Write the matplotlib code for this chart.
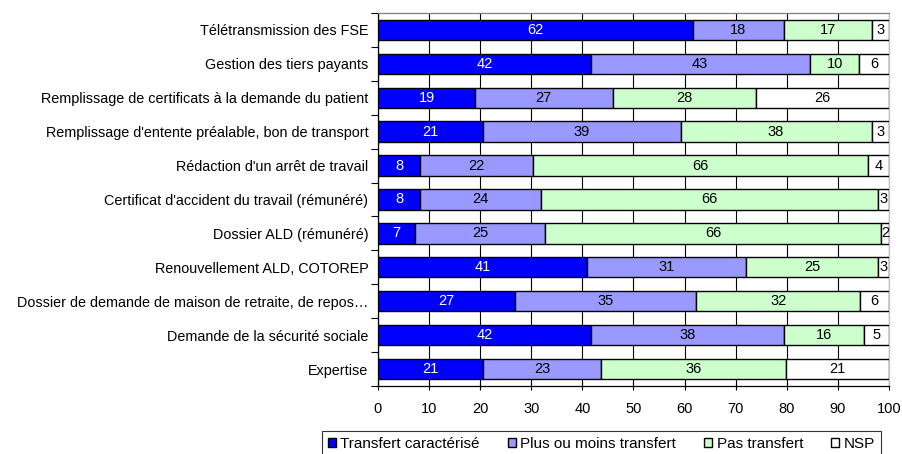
import matplotlib
matplotlib.use("Agg")
import matplotlib.pyplot as plt
import numpy as np
from matplotlib.patches import Patch

plt.rcParams['font.family'] = ['Liberation Sans', 'DejaVu Sans']

categories = [
    "Télétransmission des FSE",
    "Gestion des tiers payants",
    "Remplissage de certificats à la demande du patient",
    "Remplissage d'entente préalable, bon de transport",
    "Rédaction d'un arrêt de travail",
    "Certificat d'accident du travail (rémunéré)",
    "Dossier ALD (rémunéré)",
    "Renouvellement ALD, COTOREP",
    "Dossier de demande de maison de retraite, de repos…",
    "Demande de la sécurité sociale",
    "Expertise",
]
series_names = ["Transfert caractérisé", "Plus ou moins transfert", "Pas transfert", "NSP"]

# bar widths (percent)
transfert = [61.6, 41.6, 19.0, 20.6, 8.2, 8.2, 7.3, 40.9, 26.9, 41.7, 20.6]
plus_moins = [17.8, 42.9, 26.9, 38.6, 22.2, 23.7, 25.4, 31.2, 35.4, 37.8, 23.0]
pas_transfert = [17.2, 9.7, 28.0, 37.4, 65.5, 65.9, 65.8, 25.7, 32.1, 15.6, 36.3]
nsp = [3.4, 5.8, 26.1, 3.4, 4.1, 2.2, 1.5, 2.2, 5.6, 4.9, 20.1]

# printed labels
lab_transfert = [62, 42, 19, 21, 8, 8, 7, 41, 27, 42, 21]
lab_plus_moins = [18, 43, 27, 39, 22, 24, 25, 31, 35, 38, 23]
lab_pas_transfert = [17, 10, 28, 38, 66, 66, 66, 25, 32, 16, 36]
lab_nsp = [3, 6, 26, 3, 4, 3, 2, 3, 6, 5, 21]

colors = ["#0000FF", "#9999FF", "#CCFFCC", "#FFFFFF"]
text_colors = ["white", "black", "black", "black"]

fig = plt.figure(figsize=(9.03, 4.54), dpi=100)
ax = fig.add_axes([0.4186, 0.1498, 0.9845 - 0.4186, 0.9714 - 0.1498])

y = np.arange(len(categories))
data = [transfert, plus_moins, pas_transfert, nsp]
labels = [lab_transfert, lab_plus_moins, lab_pas_transfert, lab_nsp]
left = np.zeros(len(categories))
for vals, labs, c, tc in zip(data, labels, colors, text_colors):
    vals = np.array(vals)
    bars = ax.barh(y, vals, left=left, height=0.6, color=c, edgecolor="black",
                   linewidth=1.0, zorder=3)
    ax.bar_label(bars, labels=[str(l) for l in labs], label_type="center",
                 color=tc, fontsize=10.5)
    left = left + vals

ax.set_xlim(0, 100)
ax.set_ylim(len(categories) - 0.5, -0.5)
ax.set_xticks(np.arange(0, 101, 10))
ax.set_yticks(y)
ax.set_yticklabels(categories, fontsize=10.4)
ax.set_yticks(np.arange(-0.5, len(categories), 1), minor=True)
ax.tick_params(axis="y", which="major", length=0, pad=7)
ax.tick_params(axis="y", which="minor", length=5, direction="out", width=0.8)
ax.tick_params(axis="x", which="major", length=6, direction="inout", width=0.8,
               labelsize=10.5, pad=8.5)
ax.xaxis.grid(True, color="black", linewidth=0.8, zorder=0)
ax.set_axisbelow(True)

ax.spines["left"].set_color("black")
ax.spines["bottom"].set_color("black")
ax.spines["top"].set_color("#808080")
ax.spines["right"].set_color("#C0C0C0")
for s in ax.spines.values():
    s.set_linewidth(0.9)

handles = [Patch(facecolor=c, edgecolor="black", linewidth=1.0) for c in colors]
leg = fig.legend(handles, series_names, loc="upper left",
                 bbox_to_anchor=(322 / 903, 1 - 431 / 454),
                 ncol=4, fontsize=11, frameon=True, fancybox=False,
                 edgecolor="black", handlelength=0.5, handleheight=0.5,
                 handletextpad=0.3, borderpad=0.4, columnspacing=1.85,
                 borderaxespad=0.0)
leg.get_frame().set_linewidth(0.8)

fig.savefig("out.png", dpi=100)
